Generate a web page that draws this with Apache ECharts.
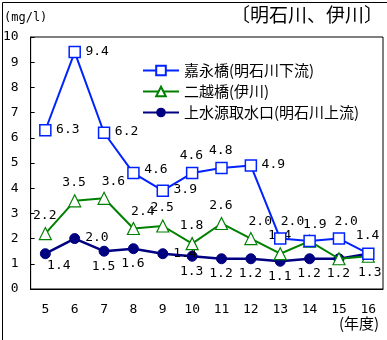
<!DOCTYPE html>
<html><head><meta charset="utf-8">
<script src="https://cdn.jsdelivr.net/npm/echarts@6/dist/echarts.min.js"></script>
<style>html,body{margin:0;padding:0;background:#fff}#c{width:387px;height:340px;box-sizing:border-box;}</style>
</head><body><div id="c"></div>
<script>
const categories = ['5','6','7','8','9','10','11','12','13','14','15','16'];
const yTicks = [0,1,2,3,4,5,6,7,8,9,10];
const kaei = [6.3, 9.4, 6.2, 4.6, 3.9, 4.6, 4.8, 4.9, 2.0, 1.9, 2.0, 1.4];
const futagoe = [2.2, 3.5, 3.6, 2.4, 2.5, 1.8, 2.6, 2.0, 1.4, 1.9, 1.2, 1.3];
const josui = [1.4, 2.0, 1.5, 1.6, 1.4, 1.3, 1.2, 1.2, 1.1, 1.2, 1.2, 1.4];
const names = ['嘉永橋(明石川下流)', '二越橋(伊川)', '上水源取水口(明石川上流)'];

// label placement codes (style, separate from data)
const kaeiPos = ['r','r','r','rt','r','t','t','r','tr2','tr3','tr4','t'];
const futagoePos = ['t','t','tr','tr','t','t','t','tr','t','-','-','br2'];
const josuiPos = ['br','r','b','b','r','b','b','b','b','b','b','-'];

const numFont = 'DejaVu Sans Mono';
function lbl(code, s){
  const c = s / 2;
  const base = {show:true, color:'#000', fontFamily:numFont, fontSize:13,
    formatter: p => Number(p.value).toFixed(1)};
  const at = (x, y, align, va) => Object.assign(base, {position:[x, y], align:align, verticalAlign:va});
  switch(code){
    case 'r': return at(s + 6, c, 'left', 'middle');
    case 'rt': return at(s + 6, c - 3, 'left', 'middle');
    case 't': return at(c, -5, 'center', 'bottom');
    case 'tr': return at(c + 10, -4, 'center', 'bottom');
    case 'tr2': return at(c + 13, -4, 'center', 'bottom');
    case 'tr3': return at(c + 6, -4, 'center', 'bottom');
    case 'tr4': return at(c + 8, -4, 'center', 'bottom');
    case 'b': return at(c, s + 4, 'center', 'top');
    case 'br': return at(c + 14, s + 1, 'center', 'top');
    case 'br2': return at(c + 2, s + 4, 'center', 'top');
    default: return {show:false};
  }
}
function build(vals, pos, s){ return vals.map((v,i)=>({value:v, label:lbl(pos[i], s)})); }

const chart = echarts.init(document.getElementById('c'));
chart.setOption({
  animation:false,
  backgroundColor:'#fff',
  graphic:[
    {type:'rect', left:0, top:0, shape:{width:386, height:339, x:0.5, y:0.5}, style:{fill:'none', stroke:'#000', lineWidth:1}, silent:true},
    {type:'text', left:4, top:12, style:{text:'(mg/l)', font:'12px "DejaVu Sans Mono"', fill:'#000'}},
    {type:'text', left:231, top:5, style:{text:'〔明石川、伊川〕', font:'19px "Noto Sans CJK JP"', fill:'#000'}},
    {type:'text', left:339, top:316, style:{text:'(年度)', font:'15px "Noto Sans CJK JP"', fill:'#000'}}
  ],
  grid:{left:30, top:37, right:4, bottom:51, show:true, borderColor:'#000', borderWidth:1, backgroundColor:'transparent'},
  legend:{
    orient:'vertical', left:137, top:58, itemWidth:36, itemHeight:12, itemGap:6,
    textStyle:{fontFamily:'Noto Sans CJK JP', fontSize:15, color:'#000'},
    data:names
  },
  xAxis:{
    type:'category', data:categories, boundaryGap:true,
    axisLine:{lineStyle:{color:'#000'}},
    axisTick:{inside:true, length:4, lineStyle:{color:'#000'}},
    axisLabel:{color:'#000', fontFamily:numFont, fontSize:13, margin:14}
  },
  yAxis:{
    type:'value', min:yTicks[0], max:yTicks[yTicks.length-1], interval:1,
    splitLine:{show:false},
    axisLine:{show:true, lineStyle:{color:'#000'}},
    axisTick:{show:true, inside:true, length:4, lineStyle:{color:'#000'}},
    axisLabel:{color:'#000', fontFamily:numFont, fontSize:13, margin:12}
  },
  series:[
    {name:names[0], type:'line', data:build(kaei,kaeiPos,11), symbol:'rect', symbolSize:11,
     labelLayout:{hideOverlap:false},
     itemStyle:{color:'#fff', borderColor:'#0022ff', borderWidth:1.5},
     lineStyle:{color:'#0022ff', width:2}, z:3},
    {name:names[1], type:'line', data:build(futagoe,futagoePos,12), symbol:'triangle', symbolSize:12,
     labelLayout:{hideOverlap:false},
     itemStyle:{color:'#fff', borderColor:'#008000', borderWidth:1.2},
     lineStyle:{color:'#008000', width:2}, z:2},
    {name:names[2], type:'line', data:build(josui,josuiPos,10), symbol:'circle', symbolSize:10,
     labelLayout:{hideOverlap:false},
     itemStyle:{color:'#000080', borderColor:'#000080'},
     lineStyle:{color:'#000080', width:2.5}, z:1}
  ]
});
</script></body></html>
